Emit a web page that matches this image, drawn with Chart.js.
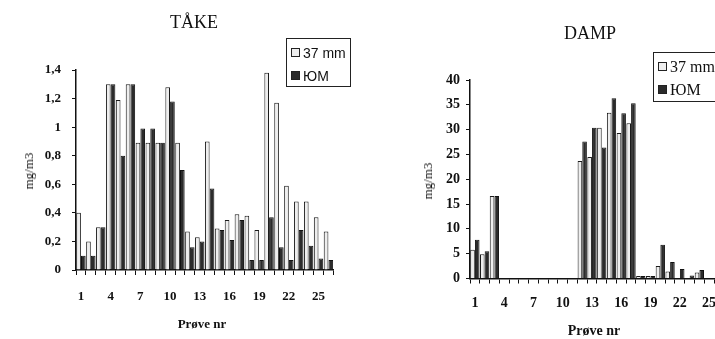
<!DOCTYPE html>
<html>
<head>
<meta charset="utf-8">
<script src="https://cdn.jsdelivr.net/npm/chart.js@4.4.1/dist/chart.umd.min.js"></script>
<style>
  html, body { margin: 0; padding: 0; background: #fff; }
  body { width: 715px; height: 339px; position: relative; overflow: hidden; font-family: "Liberation Serif", serif; color: #111; }
  canvas { position: absolute; top: 0; }
  .txt { position: absolute; white-space: nowrap; transform: translate(-50%, -50%); }
  .rot { transform: translate(-50%, -50%) rotate(-90deg); }
  .legend { position: absolute; border: 1.5px solid #222; background: #fff; box-sizing: border-box; }
  .legend div { position: absolute; left: 4px; white-space: nowrap; transform: translateY(-50%); }
  .legend span { display: inline-block; width: 7px; height: 7px; border: 1px solid #222; margin-right: 3px; vertical-align: 1px; }
</style>
</head>
<body>
<canvas id="take" width="360" height="339" style="left:0"></canvas>
<canvas id="damp" width="365" height="339" style="left:365px"></canvas>

<div class="txt" style="left:194px; top:22px; font-size:18px">TÅKE</div>
<div class="txt" style="left:590px; top:33px; font-size:18px">DAMP</div>
<div class="txt rot" style="left:29px; top:171px; font-size:13px">mg/m3</div>
<div class="txt rot" style="left:428px; top:181px; font-size:13px">mg/m3</div>
<div class="txt" style="left:202px; top:324px; font-size:13px; font-weight:bold">Prøve nr</div>
<div class="txt" style="left:594px; top:331px; font-size:14px; font-weight:bold">Prøve nr</div>

<div class="legend" id="legTake" style="left:286px; top:38px; width:65px; height:49px; font-family:'Liberation Sans', sans-serif; font-size:14px"></div>
<div class="legend" id="legDamp" style="left:653px; top:52px; width:80px; height:50px; font-size:16px"></div>

<script>
// prøve nr 1..26
const proveNr = ['1','2','3','4','5','6','7','8','9','10','11','12','13','14','15','16','17','18','19','20','21','22','23','24','25','26'];
const shownNr = ['1','4','7','10','13','16','19','22','25'];
const seriesNames = ['37 mm', 'ЮМ'];

// TÅKE, mg/m3
const take37mm = [0.4,0.2,0.3,1.3,1.19,1.3,0.89,0.89,0.89,1.28,0.89,0.27,0.23,0.9,0.29,0.35,0.39,0.38,0.28,1.38,1.17,0.59,0.48,0.48,0.37,0.27];
const takeJuM  = [0.1,0.1,0.3,1.3,0.8,1.3,0.99,0.99,0.89,1.18,0.7,0.16,0.2,0.57,0.28,0.21,0.35,0.07,0.07,0.37,0.16,0.07,0.28,0.17,0.08,0.07];
const takeYTicks = [0,0.2,0.4,0.6,0.8,1,1.2,1.4];

// DAMP, mg/m3
const damp37mm = [5.8,4.9,16.6,0,0,0,0,0,0,0,0,23.7,24.5,30.4,33.4,29.3,31.3,0.5,0.5,2.5,1.4,0,0,1.2,0,0];
const dampJuM  = [7.8,5.5,16.6,0,0,0,0,0,0,0,0,27.6,30.4,26.4,36.3,33.3,35.3,0.5,0.5,6.8,3.3,1.9,0.6,1.7,0,0];
const dampYTicks = [0,5,10,15,20,25,30,35,40];

const barColors = ['#eeeeee', '#2b2b2b'];

function fmt(v) {
    return String(Math.round(v * 10) / 10).replace('.', ',');
}

function makeChart(id, a, b, yTicks, box) {
    const ctx = document.getElementById(id);
    return new Chart(ctx, {
        type: 'bar',
        data: {
            labels: proveNr,
            datasets: [
                { label: seriesNames[0], data: a, backgroundColor: barColors[0], borderColor: '#1b1b1b', borderWidth: 1,
                  categoryPercentage: 0.96, barPercentage: 0.98 },
                { label: seriesNames[1], data: b, backgroundColor: barColors[1], borderColor: '#111', borderWidth: 1,
                  categoryPercentage: 0.96, barPercentage: 0.98 }
            ]
        },
        options: {
            responsive: false,
            animation: false,
            devicePixelRatio: 1,
            layout: { padding: { top: box.top, right: box.right, left: 0, bottom: 0 } },
            plugins: { legend: { display: false }, tooltip: { enabled: false } },
            scales: {
                x: {
                    grid: { drawOnChartArea: false, tickLength: 5, color: '#111', lineWidth: 1 },
                    border: { color: '#111', width: 1.5 },
                    ticks: {
                        autoSkip: false, maxRotation: 0, padding: box.xPad, color: '#111',
                        font: { family: 'Liberation Serif', size: box.font, weight: 'bold' },
                        callback: (v, i) => shownNr.includes(proveNr[i]) ? proveNr[i] : ''
                    },
                    afterFit: s => { s.height = box.xh; }
                },
                y: {
                    min: 0, max: yTicks[yTicks.length - 1],
                    afterBuildTicks: s => { s.ticks = yTicks.map(v => ({ value: v })); },
                    grid: { drawOnChartArea: false, tickLength: 4, color: '#111', lineWidth: 1 },
                    border: { color: '#111', width: 1.5 },
                    ticks: {
                        padding: box.yPad, color: '#111',
                        font: { family: 'Liberation Serif', size: box.font, weight: 'bold' },
                        callback: v => fmt(v)
                    },
                    afterFit: s => { s.width = box.yw; }
                }
            }
        }
    });
}

makeChart('take', take37mm, takeJuM, takeYTicks, { top: 70, right: 26.6, xh: 69, yw: 76, xPad: 14, yPad: 11, font: 13 });
makeChart('damp', damp37mm, dampJuM, dampYTicks, { top: 80, right: 6, xh: 60.5, yw: 105, xPad: 11, yPad: 6, font: 14 });

function legend(id, top1, top2) {
    const el = document.getElementById(id);
    [top1, top2].forEach((t, i) => {
        const d = document.createElement('div');
        d.style.top = t + 'px';
        d.innerHTML = '<span style="background:' + barColors[i] + '"></span>' + seriesNames[i];
        el.appendChild(d);
    });
}
legend('legTake', 14, 37);
legend('legDamp', 14, 37);
</script>
</body>
</html>
